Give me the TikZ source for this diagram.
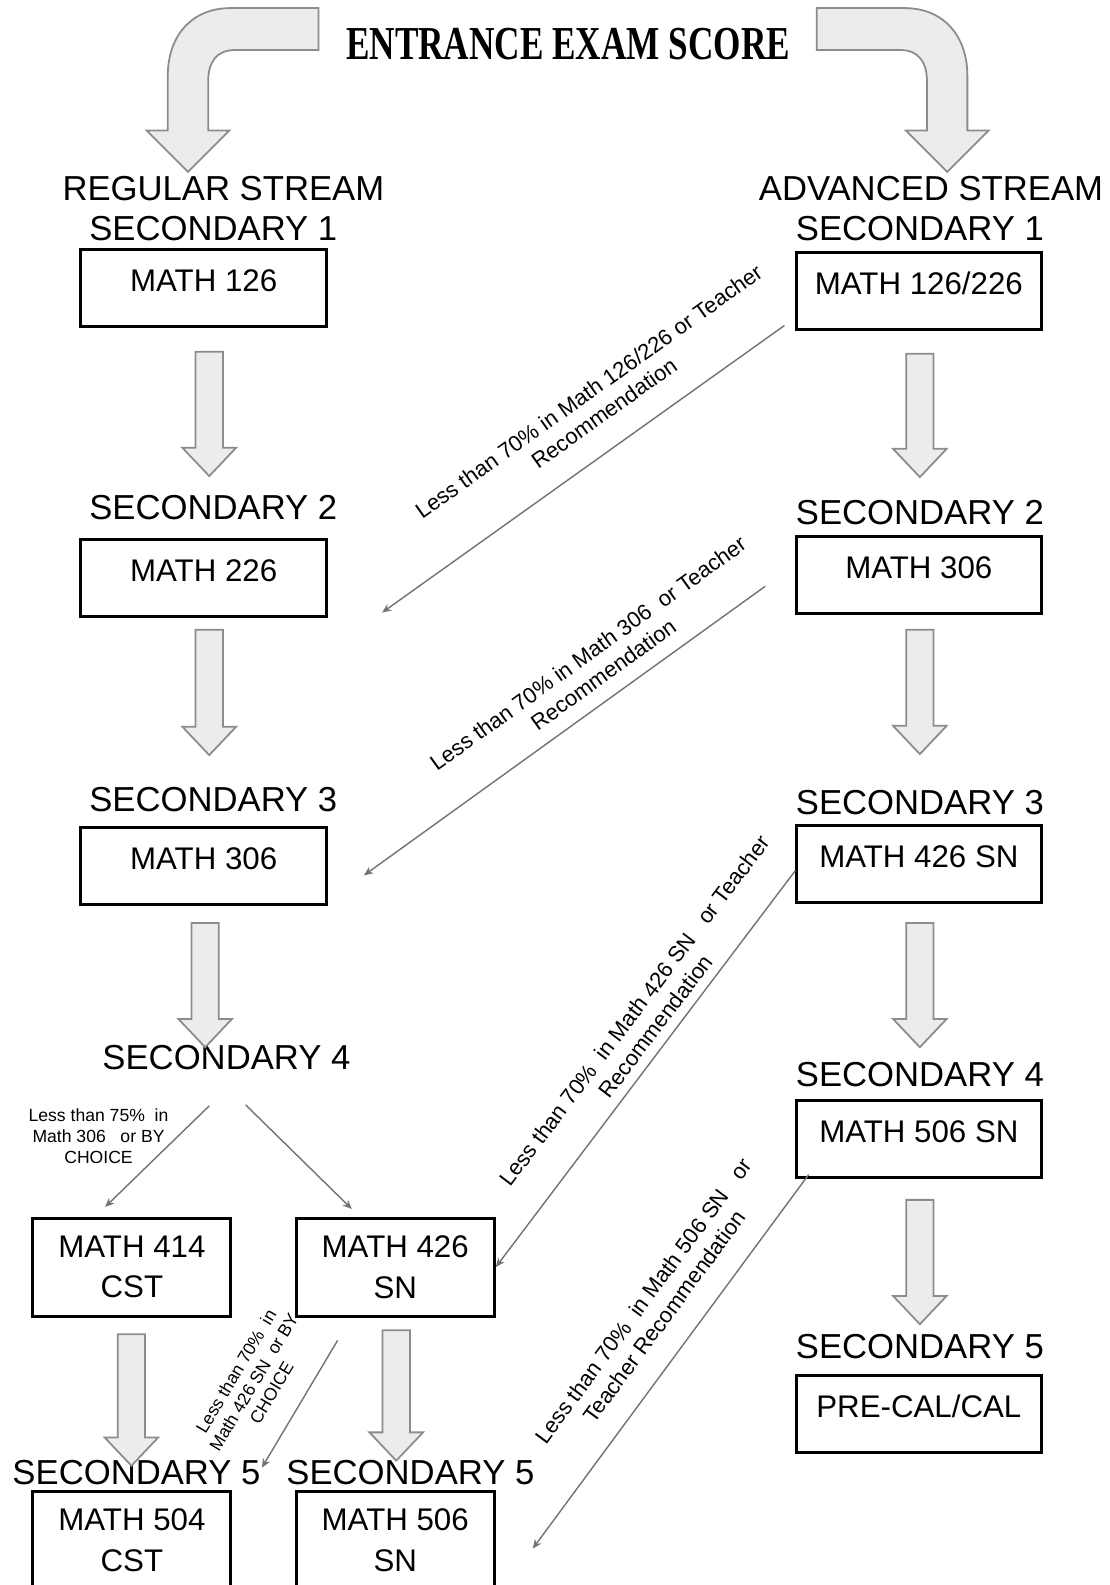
\documentclass[tikz,border=0pt]{standalone}
\usepackage{fontspec}
\usepackage{graphicx}
\setmainfont{Liberation Sans}
\newfontfamily\titlefont{Liberation Serif}
\usetikzlibrary{arrows.meta}

\begin{document}
\begin{tikzpicture}[x=0.1mm,y=-0.1mm,>={Stealth[length=2.6pt,width=2.2pt]},
  box/.style={draw,line width=0.85pt,minimum width=24.3mm,minimum height=7.6mm,inner sep=0pt,
    font=\fontsize{8.8pt}{11.4pt}\selectfont,text height=6.4pt,text depth=4.4pt},
  boxtwo/.style={draw,line width=0.85pt,minimum width=19.6mm,minimum height=9.7mm,inner sep=0pt,
    align=center,font=\fontsize{8.8pt}{11.4pt}\selectfont},
  head/.style={inner sep=0pt,font=\fontsize{9.76pt}{11.7pt}\selectfont,text height=7pt,text depth=0pt},
  blockarrow/.style={draw=gray!90,fill=gray!15,line width=0.5pt},
  link/.style={->,draw=black!55,line width=0.4pt},
  lbl/.style={sloped,inner sep=0pt,align=center,font=\fontsize{6.2pt}{7.4pt}\selectfont},
  smalllbl/.style={inner sep=0pt,align=center,font=\fontsize{4.95pt}{5.8pt}\selectfont}]
% Page frame
\useasboundingbox (0,0) rectangle (1098,1568);
\clip (0,0) rectangle (1098,1568);

% Title and bent arrows
\node[inner sep=0pt] (title) at (562,44)
  {\scalebox{0.745}[1]{\titlefont\bfseries\fontsize{13.3pt}{15pt}\selectfont ENTRANCE EXAM SCORE}};
\draw[blockarrow] (315,8) -- (228,8) .. controls (190,8) and (166,35) .. (166,75) -- (166,129)
  -- (145,129) -- (186,170) -- (227,129) -- (206,129) -- (206,80)
  .. controls (206,62) and (214,49.5) .. (232,49.5) -- (315,49.5) -- cycle;
\draw[blockarrow] (808,8) -- (895,8) .. controls (933,8) and (957,35) .. (957,75) -- (957,129)
  -- (978,129) -- (937,170) -- (896,129) -- (917,129) -- (917,80)
  .. controls (917,62) and (909,49.5) .. (891,49.5) -- (808,49.5) -- cycle;

% Regular stream
\node[head] (regular) at (221,186) {REGULAR STREAM};
\node[head] (rsec1) at (211,226) {SECONDARY 1};
\node[box] (r126) at (201.5,285) {MATH 126};
\node[head] (rsec2) at (211,502) {SECONDARY 2};
\node[box] (r226) at (201.5,572) {MATH 226};
\node[head] (rsec3) at (211,790) {SECONDARY 3};
\node[box] (r306) at (201.5,857) {MATH 306};
\node[head] (rsec4) at (224,1046) {SECONDARY 4};
\node[boxtwo] (r414) at (130.5,1253.5) {MATH 414\\CST};
\node[boxtwo] (r426) at (391,1253.5) {MATH 426\\SN};
\node[head] (rsec5a) at (135,1456) {SECONDARY 5};
\node[head] (rsec5b) at (406,1456) {SECONDARY 5};
\node[boxtwo] (r504) at (130.5,1523.5) {MATH 504\\CST};
\node[boxtwo] (r506) at (391,1523.5) {MATH 506\\SN};

% Advanced stream
\node[head] (advanced) at (921,186) {ADVANCED STREAM};
\node[head] (asec1) at (910,226) {SECONDARY 1};
\node[box] (a126) at (909,288) {MATH 126/226};
\node[head] (asec2) at (910,507) {SECONDARY 2};
\node[box] (a306) at (909,568.5) {MATH 306};
\node[head] (asec3) at (910,793) {SECONDARY 3};
\node[box] (a426) at (909,854.5) {MATH 426 SN};
\node[head] (asec4) at (910,1063) {SECONDARY 4};
\node[box] (a506) at (909,1126.5) {MATH 506 SN};
\node[head] (asec5) at (910,1332) {SECONDARY 5};
\node[box] (apre) at (909,1398.5) {PRE-CAL/CAL};

% Down arrows
\foreach \x/\ya/\yb in {207/348/471, 207/623/747, 203/913/1036, 130/1320/1450, 392/1316/1445,
                        910/350/472, 910/623/746, 910/913/1036, 910/1187/1310} {
  \draw[blockarrow] (\x-13.5,\ya) -- (\x+13.5,\ya) -- (\x+13.5,\yb-28) -- (\x+26.5,\yb-28)
    -- (\x,\yb) -- (\x-26.5,\yb-28) -- (\x-13.5,\yb-28) -- cycle;
}

% Free ends of the thin arrows
\coordinate (d1s) at (776,322);
\coordinate (d1e) at (378,606);
\coordinate (d2s) at (757,580);
\coordinate (d2e) at (360,866);
\coordinate (d3s) at (787,861);
\coordinate (d4s) at (800,1162);
\coordinate (d4e) at (527,1532);
\coordinate (s1s) at (207,1094);
\coordinate (s1e) at (104,1194);
\coordinate (s2s) at (243,1093);
\coordinate (s2e) at (348,1196);
\coordinate (s3s) at (334,1326);
\coordinate (s3e) at (259,1452);

% Drops to the regular stream
\draw[link] (d1s) -- node[lbl,pos=0.4,above=7pt]
  {Less than 70\% in Math 126/226 or Teacher\\Recommendation} (d1e);
\draw[link] (d2s) -- node[lbl,pos=0.37,above=4pt]
  {Less than 70\% in Math 306~ or Teacher\\Recommendation} (d2e);
\draw[link] (d3s) -- node[lbl,pos=0.42,above=2.5pt]
  {Less than 70\%~ in Math 426 SN~~ or Teacher\\Recommendation} (r426.east);
\draw[link] (d4s) -- node[lbl,pos=0.43,above=6.5pt]
  {Less than 70\%~ in Math 506 SN~~ or\\Teacher Recommendation} (d4e);

% Secondary 4 choices
\draw[link] (s1s) -- node[smalllbl,pos=0.3,left=2.5pt]
  {Less than 75\%~ in\\Math 306~~ or BY\\CHOICE} (s1e);
\draw[link] (s2s) -- (s2e);
\draw[link] (s3s) -- node[smalllbl,sloped,pos=0.53,above=6.5pt]
  {Less than 70\%~ in\\Math 426 SN~ or BY\\CHOICE} (s3e);

\end{tikzpicture}
\end{document}
